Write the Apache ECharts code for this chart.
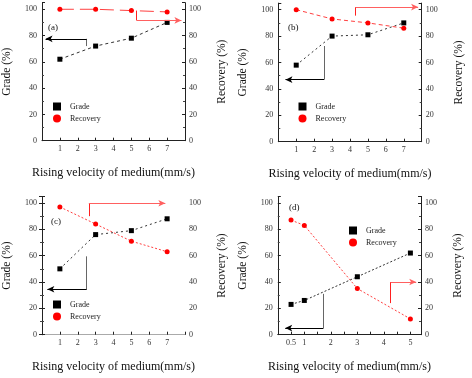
<!DOCTYPE html>
<html>
<head>
<meta charset="utf-8">
<script src="https://cdn.jsdelivr.net/npm/echarts@6/dist/echarts.min.js"></script>
<style>
html,body{margin:0;padding:0;background:#fff;}
#chart{width:472px;height:378px;}
</style>
</head>
<body>
<div id="chart"></div>
<script>
// ---- data ----
const panelLabels = ['(a)', '(b)', '(c)', '(d)'];
const xTicksABC = [1, 2, 3, 4, 5, 6, 7];
const xTicksD = [0.5, 1, 2, 3, 4, 5];
const yTicks = [0, 20, 40, 60, 80, 100];

const velA = [1, 3, 5, 7];
const gradeA = [62, 72, 78, 90];
const recA = [100, 100, 99, 98];

const velB = [1, 3, 5, 7];
const gradeB = [58, 80, 81, 90];
const recB = [100, 93, 90, 86];

const velC = [1, 3, 5, 7];
const gradeC = [50, 76, 79, 88];
const recC = [97, 84, 71, 63];

const velD = [0.5, 1, 3, 5];
const gradeD = [23, 26, 44, 62];
const recD = [87, 83, 35, 12];

// axis-pointing arrows (data units): corner points [start, bend, end]
const arrowGradeA = [[2.5, 72], [2.5, 77.5], [0.2, 77.5]];
const arrowRecA = [[5.3, 99], [5.3, 91.5], [7.8, 91.5]];
const arrowGradeB = [[2.55, 72.5], [2.55, 47], [0.4, 47]];
const arrowRecB = [[4.3, 95.5], [4.3, 102], [7.8, 102]];
const arrowGradeC = [[2.5, 59.5], [2.5, 34.5], [0.3, 34.5]];
const arrowRecC = [[2.62, 90], [2.62, 99.8], [6.9, 99.8]];
const arrowGradeD = [[1.72, 31], [1.72, 5], [0.28, 5]];
const arrowRecD = [[4.25, 24], [4.25, 40], [5.22, 40]];

// ---- layout ----
const FONT = 'Liberation Serif, Times New Roman, serif';
const gridBoxes = [
  {left: 41.3, top: 2.7, width: 143.7, height: 138},
  {left: 278.3, top: 3.1, width: 143.4, height: 138.6},
  {left: 41.7, top: 196.4, width: 143.3, height: 138.3},
  {left: 277.8, top: 196.4, width: 143.2, height: 138.3}
];
const legendPos = [
  {left: 53, top: 102.5},
  {left: 298.5, top: 102.5},
  {left: 53, top: 300.5},
  {left: 349, top: 226.5}
];
const titlePos = [
  {left: 48, top: 23},
  {left: 288, top: 23},
  {left: 51, top: 217},
  {left: 289, top: 203}
];

const panels = [
  {vel: velA, grade: gradeA, rec: recA, ticks: xTicksABC, xmax: 8, xint: 1, ag: arrowGradeA, ar: arrowRecA, gradeDash: [3, 3], recDash: [14, 6], topBorder: false},
  {vel: velB, grade: gradeB, rec: recB, ticks: xTicksABC, xmax: 8, xint: 1, ag: arrowGradeB, ar: arrowRecB, gradeDash: [2, 3], recDash: [4, 3], topBorder: false},
  {vel: velC, grade: gradeC, rec: recC, ticks: xTicksABC, xmax: 8, xint: 1, ag: arrowGradeC, ar: arrowRecC, gradeDash: [2, 3], recDash: [2, 2], topBorder: true},
  {vel: velD, grade: gradeD, rec: recD, ticks: xTicksD, xmax: 5.4, xint: 0.5, ag: arrowGradeD, ar: arrowRecD, gradeDash: [2, 2], recDash: [2, 2], topBorder: false}
];

function zip(xs, ys) { return xs.map((x, i) => [x, ys[i]]); }

function arrowLines(pts, vColor, hColor) {
  return [
    [{coord: pts[0], symbol: 'none', lineStyle: {color: vColor}}, {coord: pts[1], symbol: 'none'}],
    [{coord: pts[1], symbol: 'none', lineStyle: {color: hColor}}, {coord: pts[2], symbol: 'arrow', symbolSize: [5, 7]}]
  ];
}

const option = {
  animation: false,
  backgroundColor: '#fff',
  grid: [], xAxis: [], yAxis: [], series: [], legend: [], title: []
};

panels.forEach((p, i) => {
  option.grid.push(Object.assign({containLabel: false}, gridBoxes[i]));
  const ticksSet = p.ticks.map(String);
  option.xAxis.push({
    type: 'value', gridIndex: i, min: 0, max: p.xmax, interval: p.xint,
    name: 'Rising velocity of medium(mm/s)', nameLocation: 'middle', nameGap: 26,
    nameTextStyle: {fontFamily: FONT, fontSize: 12, color: '#111'},
    axisLine: {show: true, lineStyle: {color: '#222', width: 1}},
    axisTick: {show: true, inside: true, length: 3, lineStyle: {color: '#222'}},
    axisLabel: {fontFamily: FONT, fontSize: 8, color: '#333', margin: 4,
      showMinLabel: true, showMaxLabel: true,
      formatter: v => ticksSet.indexOf(String(v)) >= 0 ? String(v) : ''},
    splitLine: {show: false}
  });
  if (p.topBorder) {
    option.xAxis.push({
      type: 'value', gridIndex: i, position: 'top', min: 0, max: p.xmax,
      axisLine: {show: true, lineStyle: {color: '#aaa', width: 1}},
      axisTick: {show: false}, axisLabel: {show: false}, splitLine: {show: false}
    });
  }
  const yCommon = {
    type: 'value', gridIndex: i, min: 0, max: 105, interval: 20,
    nameLocation: 'middle',
    axisLine: {show: true, lineStyle: {color: '#222', width: 1}},
    axisTick: {show: true, inside: true, length: 3, lineStyle: {color: '#222'}},
    minorTick: {show: true, splitNumber: 2, length: 2, lineStyle: {color: '#444'}},
    splitLine: {show: false},
    axisLabel: {fontFamily: FONT, fontSize: 8, color: '#333',
      formatter: v => yTicks.indexOf(v) >= 0 ? String(v) : ''}
  };
  option.yAxis.push(Object.assign({}, yCommon, {
    position: 'left', name: 'Grade (%)', nameGap: 29,
    nameTextStyle: {fontFamily: FONT, fontSize: 11.5, color: '#111'},
    axisLabel: Object.assign({}, yCommon.axisLabel, {margin: 5})
  }));
  option.yAxis.push(Object.assign({}, yCommon, {
    position: 'right', name: 'Recovery (%)', nameGap: 31, nameRotate: 90,
    nameTextStyle: {fontFamily: FONT, fontSize: 11.5, color: '#111'},
    axisLabel: Object.assign({}, yCommon.axisLabel, {margin: 4})
  }));
  const xIdx = option.xAxis.findIndex(a => a.gridIndex === i);
  option.series.push({
    name: 'Grade', type: 'line', xAxisIndex: xIdx, yAxisIndex: 2 * i,
    data: zip(p.vel, p.grade), symbol: 'rect', symbolSize: 5,
    itemStyle: {color: '#000'},
    lineStyle: {color: '#333', width: 1, type: p.gradeDash},
    markLine: {silent: true, animation: false, label: {show: false},
      lineStyle: {width: 1, type: 'solid'},
      data: arrowLines(p.ag, '#666', '#000')}
  });
  option.series.push({
    name: 'Recovery', type: 'line', xAxisIndex: xIdx, yAxisIndex: 2 * i + 1,
    data: zip(p.vel, p.rec), symbol: 'circle', symbolSize: 5,
    itemStyle: {color: '#ff0000'},
    lineStyle: {color: '#ff4040', width: 1, type: p.recDash},
    markLine: {silent: true, animation: false, label: {show: false},
      lineStyle: {width: 1, type: 'solid'},
      data: arrowLines(p.ar, '#ff2020', '#ff6060')}
  });
  option.legend.push(Object.assign({
    orient: 'vertical', padding: 0, itemWidth: 8, itemHeight: 8, itemGap: 4,
    selectedMode: false,
    textStyle: {fontFamily: FONT, fontSize: 8, color: '#222', padding: [0, 0, 0, 4]},
    data: [{name: 'Grade', icon: 'rect'}, {name: 'Recovery', icon: 'circle'}]
  }, legendPos[i]));
  option.title.push(Object.assign({
    text: panelLabels[i], padding: 0,
    textStyle: {fontFamily: FONT, fontSize: 9, fontWeight: 'normal', color: '#111'}
  }, titlePos[i]));
});

const chart = echarts.init(document.getElementById('chart'), null, {renderer: 'canvas'});
chart.setOption(option);
</script>
</body>
</html>
